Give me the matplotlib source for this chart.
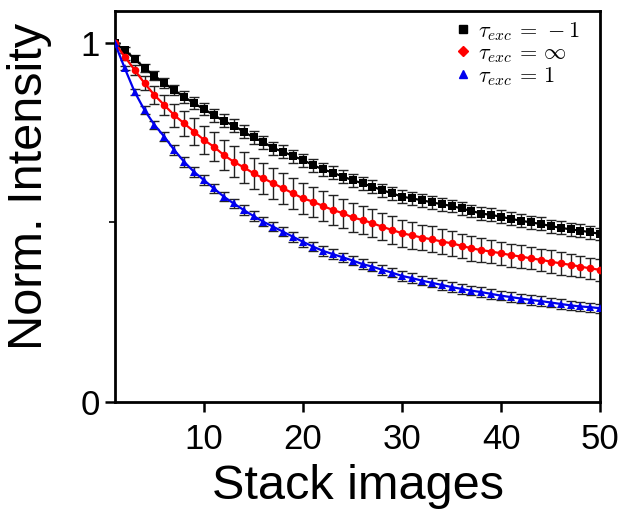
import numpy as np
import matplotlib
matplotlib.use("Agg")
import matplotlib.pyplot as plt
from matplotlib.lines import Line2D
from matplotlib.ticker import FixedLocator

plt.rcParams['font.family'] = ['Liberation Sans', 'DejaVu Sans']
plt.rcParams['mathtext.fontset'] = 'cm'

frames = list(range(1, 51))

black_vals = [1.000, 0.980, 0.956, 0.930, 0.909, 0.888, 0.869, 0.850, 0.832, 0.816,
              0.799, 0.783, 0.770, 0.753, 0.737, 0.724, 0.707, 0.697, 0.685, 0.674,
              0.660, 0.648, 0.639, 0.628, 0.618, 0.609, 0.600, 0.590, 0.581, 0.572,
              0.567, 0.562, 0.556, 0.551, 0.546, 0.539, 0.532, 0.525, 0.521, 0.516,
              0.510, 0.505, 0.500, 0.496, 0.490, 0.485, 0.481, 0.477, 0.473, 0.468]
black_err = [0.000, 0.008, 0.010, 0.012, 0.013, 0.014, 0.015, 0.016, 0.017, 0.017,
             0.018, 0.018, 0.018, 0.018, 0.018, 0.018, 0.018, 0.018, 0.018, 0.018,
             0.018, 0.018, 0.018, 0.018, 0.018, 0.018, 0.018, 0.018, 0.018, 0.018,
             0.018, 0.018, 0.018, 0.018, 0.018, 0.018, 0.018, 0.018, 0.018, 0.018,
             0.018, 0.018, 0.018, 0.018, 0.018, 0.018, 0.018, 0.018, 0.018, 0.018]

red_vals = [1.000, 0.962, 0.925, 0.888, 0.855, 0.827, 0.799, 0.776, 0.753, 0.730,
            0.711, 0.688, 0.669, 0.654, 0.637, 0.623, 0.609, 0.595, 0.581, 0.567,
            0.558, 0.546, 0.535, 0.526, 0.514, 0.507, 0.498, 0.488, 0.479, 0.470,
            0.464, 0.458, 0.453, 0.447, 0.442, 0.435, 0.428, 0.423, 0.419, 0.414,
            0.409, 0.405, 0.400, 0.396, 0.391, 0.386, 0.382, 0.377, 0.372, 0.368]
red_err = [0.000, 0.010, 0.015, 0.020, 0.025, 0.028, 0.032, 0.035, 0.037, 0.040,
           0.041, 0.042, 0.043, 0.043, 0.043, 0.043, 0.043, 0.043, 0.043, 0.042,
           0.042, 0.041, 0.041, 0.040, 0.040, 0.039, 0.039, 0.038, 0.038, 0.037,
           0.037, 0.036, 0.036, 0.035, 0.035, 0.034, 0.034, 0.033, 0.033, 0.032,
           0.032, 0.032, 0.031, 0.031, 0.031, 0.031, 0.030, 0.030, 0.030, 0.030]

blue_vals = [1.000, 0.930, 0.864, 0.813, 0.772, 0.739, 0.702, 0.669, 0.641, 0.618,
             0.595, 0.572, 0.553, 0.535, 0.518, 0.502, 0.488, 0.474, 0.460, 0.446,
             0.433, 0.421, 0.412, 0.403, 0.394, 0.384, 0.377, 0.368, 0.360, 0.351,
             0.345, 0.338, 0.332, 0.326, 0.320, 0.315, 0.310, 0.306, 0.301, 0.296,
             0.292, 0.288, 0.284, 0.281, 0.277, 0.273, 0.269, 0.266, 0.264, 0.261]
blue_err = [0.000, 0.006, 0.009, 0.011, 0.012, 0.013, 0.013, 0.013, 0.013, 0.013,
            0.013, 0.013, 0.013, 0.013, 0.013, 0.013, 0.013, 0.013, 0.013, 0.013,
            0.013, 0.013, 0.013, 0.013, 0.013, 0.013, 0.013, 0.013, 0.013, 0.013,
            0.013, 0.013, 0.013, 0.013, 0.013, 0.013, 0.013, 0.013, 0.013, 0.013,
            0.013, 0.013, 0.013, 0.013, 0.013, 0.013, 0.013, 0.013, 0.013, 0.013]

labels = [r'$\tau_{exc}\,=\,-1$', r'$\tau_{exc}\,=\,\infty$', r'$\tau_{exc}\,=\,1$']
x_ticks = [10, 20, 30, 40, 50]
y_ticks = [0, 1]

fig = plt.figure(figsize=(6.24, 5.12), dpi=100)
ax = fig.add_axes([0.184, 0.215, 0.778, 0.764])

series = [
    (black_vals, black_err, '#000000', 's', 5.5),
    (red_vals, red_err, '#ff0000', 'o', 5.5),
    (blue_vals, blue_err, '#0000ee', '^', 6.0),
]
for vals, err, col, mk, ms in series:
    ax.errorbar(frames, vals, yerr=err, fmt='none', ecolor='#222222',
                elinewidth=1.0, capsize=3.5, capthick=1.0, zorder=2)
    ax.plot(frames, vals, color=col, marker=mk, markersize=ms, linewidth=1.6,
            markeredgewidth=0, zorder=3)

ax.set_xlim(1, 50)
ax.set_ylim(0, 1.09)
ax.set_xticks(x_ticks)
ax.set_yticks(y_ticks)
ax.yaxis.set_minor_locator(FixedLocator([0.5]))
ax.xaxis.set_minor_locator(FixedLocator([]))
ax.tick_params(axis='both', which='major', labelsize=25, width=1.8, length=7,
               direction='out')
ax.tick_params(axis='x', which='major', pad=8)
ax.tick_params(axis='y', which='major', pad=4)
ax.tick_params(axis='y', which='minor', width=1.2, length=4, direction='out')
for sp in ax.spines.values():
    sp.set_linewidth(2.0)

ax.set_xlabel('Stack images', fontsize=35, labelpad=6)
ax.set_ylabel('Norm. Intensity', fontsize=35)
ax.yaxis.set_label_coords(-0.13, 0.55)

handles = [
    Line2D([], [], color='#000000', marker='s', linestyle='none', markersize=6),
    Line2D([], [], color='#ff0000', marker='D', linestyle='none', markersize=5),
    Line2D([], [], color='#0000ee', marker='^', linestyle='none', markersize=6),
]
ax.legend(handles, labels, loc='upper right', frameon=False, fontsize=16,
          handlelength=0.7, handletextpad=0.3, labelspacing=0.0,
          borderaxespad=0.2, bbox_to_anchor=(0.985, 1.01))

fig.savefig('out.png', dpi=100)
